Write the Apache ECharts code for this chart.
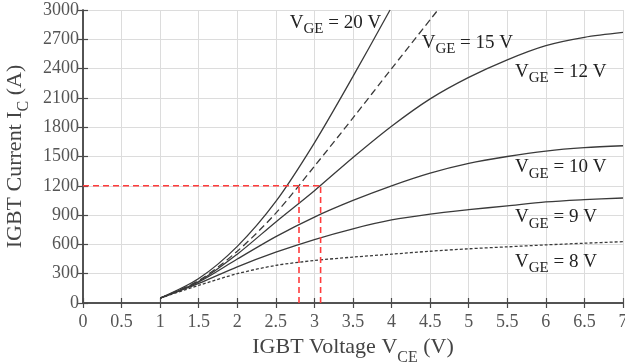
<!DOCTYPE html>
<html><head><meta charset="utf-8">
<script src="https://cdn.jsdelivr.net/npm/echarts@6/dist/echarts.min.js"></script>
<style>html,body{margin:0;padding:0;background:#fff}#c{width:625px;height:364px}</style>
</head><body><div id="c"></div>
<script>
// Data (VCE in V, IC in A)
const vce = [1, 1.5, 2, 2.5, 3, 3.5, 4, 4.5, 5, 5.5, 6, 6.5, 7];
const ic8  = [50, 180, 300, 385, 435, 470, 500, 530, 555, 575, 595, 612, 628];
const ic9  = [50, 200, 370, 520, 650, 760, 850, 910, 955, 995, 1035, 1058, 1075];
const ic10 = [50, 215, 450, 680, 880, 1050, 1200, 1330, 1430, 1500, 1555, 1590, 1610];
const ic12 = [50, 220, 500, 830, 1150, 1490, 1810, 2090, 2310, 2490, 2635, 2720, 2770];
const vce15 = [1, 1.5, 2, 2.5, 3, 3.5, 4, 4.6];
const ic15  = [50, 230, 530, 920, 1400, 1895, 2400, 3000];
const vce20 = [1, 1.5, 2, 2.5, 3, 3.5, 3.98];
const ic20  = [50, 250, 580, 1040, 1640, 2320, 3000];
// Red reference lines
const refCurrent = 1200;
const refV1 = 2.8, refV2 = 3.08;
// Curve labels: [gate voltage, anchor VCE, anchor IC]
const labelText = ['20', '15', '12', '10', '9', '8'];
const labelX = [2.68, 4.39, 5.60, 5.60, 5.60, 5.60];
const labelY = [2969, 2764, 2467, 1485, 973, 522];
// Axis ticks
const xMin = 0, xMax = 7, xStep = 0.5;
const yMin = 0, yMax = 3000, yStep = 300;

const pairs = (xs, ys) => xs.map((x, i) => [x, ys[i]]);
const FONT = '"Liberation Serif", "Times New Roman", serif';
const curveColor = '#3a3a3a';
function curve(name, data, type) {
  return { name, type: 'line', data, smooth: 0.3, showSymbol: false, symbol: 'none',
    lineStyle: { color: curveColor, width: 1.3, type: type || 'solid' }, z: 3 };
}
function redLine(data) {
  return { type: 'line', data, showSymbol: false, symbol: 'none',
    lineStyle: { color: '#ff3b3b', width: 1.6, type: [6, 4] }, z: 4 };
}
const chart = echarts.init(document.getElementById('c'));
const axisLine = { show: true, lineStyle: { color: '#4a4a4a', width: 1.5 } };
const tick = { show: true, inside: true, length: 5, lineStyle: { color: '#4a4a4a', width: 1.2 } };
chart.setOption({
  animation: false,
  grid: { left: 83, right: 2, top: 10, bottom: 61, containLabel: false, outerBoundsMode: 'none' },
  xAxis: [{
    type: 'value', min: xMin, max: xMax, interval: xStep,
    axisLine, axisTick: tick,
    splitLine: { show: true, lineStyle: { color: '#dcdcdc', width: 1 } },
    axisLabel: { color: '#555', fontFamily: FONT, fontSize: 18, margin: 10, formatter: v => String(v) },
    name: '{a|IGBT Voltage V}{s|CE}{a| (V)}', nameLocation: 'middle', nameGap: 30,
    nameTextStyle: { rich: {
      a: { fontFamily: FONT, fontSize: 22, color: '#444', verticalAlign: 'top', lineHeight: 30 },
      s: { fontFamily: FONT, fontSize: 16, color: '#444', verticalAlign: 'bottom', lineHeight: 30 } } }
  }, {
    type: 'value', min: xMin, max: xMax, interval: xStep, position: 'top',
    axisLine, axisTick: tick, axisLabel: { show: false }, splitLine: { show: false }
  }],
  yAxis: [{
    type: 'value', min: yMin, max: yMax, interval: yStep,
    axisLine, axisTick: tick,
    splitLine: { show: true, lineStyle: { color: '#dcdcdc', width: 1 } },
    axisLabel: { color: '#555', fontFamily: FONT, fontSize: 18, margin: 4, formatter: v => String(v) },
    name: '{a|IGBT Current I}{s|C}{a| (A)}', nameLocation: 'middle', nameGap: 48, nameRotate: 90,
    nameTextStyle: { rich: {
      a: { fontFamily: FONT, fontSize: 22, color: '#444', verticalAlign: 'top', lineHeight: 28 },
      s: { fontFamily: FONT, fontSize: 16, color: '#444', verticalAlign: 'bottom', lineHeight: 28 } } }
  }, {
    type: 'value', min: yMin, max: yMax, interval: yStep, position: 'right',
    axisLine, axisTick: tick, axisLabel: { show: false }, splitLine: { show: false }
  }],
  series: [
    redLine([[0, refCurrent], [refV2, refCurrent]]),
    redLine([[refV1, 0], [refV1, refCurrent]]),
    redLine([[refV2, 0], [refV2, refCurrent]]),
    curve('8', pairs(vce, ic8), [3, 2]),
    curve('9', pairs(vce, ic9)),
    curve('10', pairs(vce, ic10)),
    curve('12', pairs(vce, ic12)),
    curve('15', pairs(vce15, ic15), [7, 4]),
    curve('20', pairs(vce20, ic20))
  ]
});
const graphics = labelText.map((t, i) => {
  const p = chart.convertToPixel({ xAxisIndex: 0, yAxisIndex: 0 }, [labelX[i], labelY[i]]);
  return { type: 'text', left: p[0], top: p[1], z: 10,
    style: { text: '{v|V}{s|GE}{v| = ' + t + ' V}', rich: {
      v: { fontFamily: FONT, fontSize: 19, fill: '#222', verticalAlign: 'top', lineHeight: 24 },
      s: { fontFamily: FONT, fontSize: 15, fill: '#222', verticalAlign: 'bottom', lineHeight: 24, padding: [8, 0, 0, 0] } } } };
});
chart.setOption({ graphic: graphics });
</script></body></html>
